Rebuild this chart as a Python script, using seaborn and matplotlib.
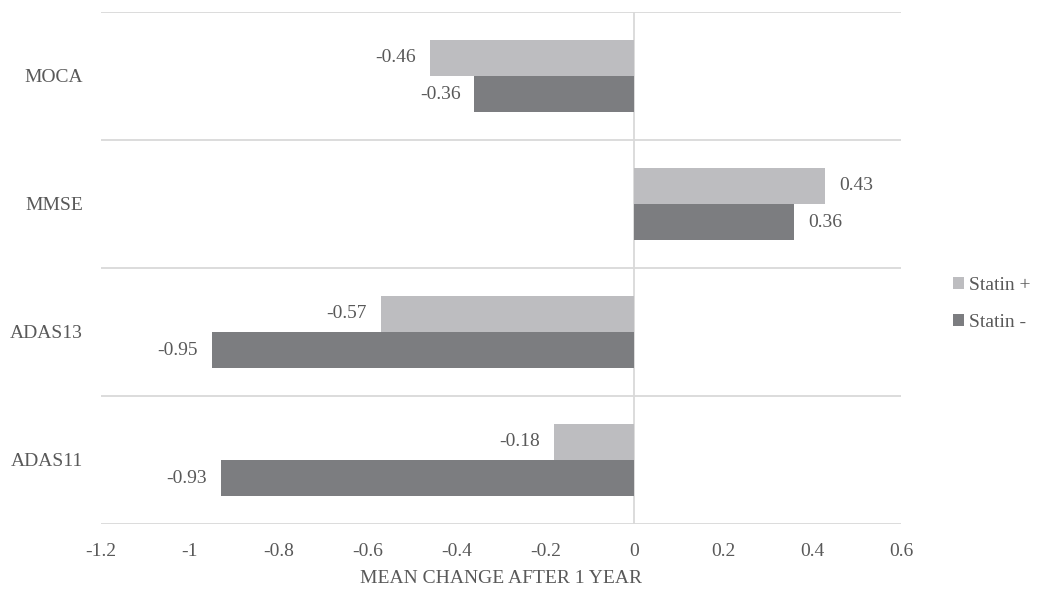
import matplotlib
matplotlib.use("Agg")
import matplotlib.pyplot as plt
import seaborn as sns
import pandas as pd
from matplotlib.patches import Patch

categories = ["MOCA", "MMSE", "ADAS13", "ADAS11"]
statin_plus = [-0.46, 0.43, -0.57, -0.18]
statin_minus = [-0.36, 0.36, -0.95, -0.93]
series_names = ["Statin +", "Statin -"]
x_ticks = [-1.2, -1.0, -0.8, -0.6, -0.4, -0.2, 0.0, 0.2, 0.4, 0.6]
x_tick_labels = ["-1.2", "-1", "-0.8", "-0.6", "-0.4", "-0.2", "0", "0.2", "0.4", "0.6"]

sns.set_theme(style="white")
plt.rcParams["font.family"] = ["Liberation Serif", "DejaVu Serif"]
plt.rcParams["axes.unicode_minus"] = False

TEXT = "#595959"
GRID = "#d9d9d9"
colors = ["#bdbdc0", "#7c7d80"]
FS = 14

df = pd.DataFrame({
    "category": categories * 2,
    "value": statin_plus + statin_minus,
    "series": [series_names[0]] * len(categories) + [series_names[1]] * len(categories),
})

fig = plt.figure(figsize=(10.38, 5.92), dpi=100)
ax = fig.add_axes([101 / 1038, 1 - 524 / 592, 800 / 1038, 512 / 592])

sns.barplot(data=df, y="category", x="value", hue="series", order=categories,
            hue_order=series_names, palette=colors, orient="h", width=0.57,
            dodge=True, saturation=1, legend=False, ax=ax, linewidth=0)

for container in ax.containers:
    ax.bar_label(container, fmt="{:.2f}", padding=10, color=TEXT, fontsize=FS)

ax.set_xlim(-1.2, 0.6)
ax.set_ylim(len(categories) - 0.5, -0.5)
ax.set_xticks(x_ticks)
ax.set_xticklabels(x_tick_labels, color=TEXT, fontsize=FS)
ax.tick_params(axis="x", length=0, pad=14)
ax.tick_params(axis="y", length=0, pad=13)
for lbl in ax.get_yticklabels():
    lbl.set_color(TEXT)
    lbl.set_fontsize(FS)

# category separators and zero line
for b in range(len(categories) + 1):
    ax.axhline(b - 0.5, color=GRID, linewidth=1.3, zorder=0)
ax.axvline(0, color=GRID, linewidth=1.3, zorder=0)
for s in ax.spines.values():
    s.set_visible(False)

ax.set_ylabel("")
ax.set_xlabel("MEAN CHANGE AFTER 1 YEAR", color=TEXT, fontsize=FS, labelpad=7)

handles = [Patch(facecolor=c, edgecolor="none", label=n) for c, n in zip(colors, series_names)]
fig.legend(handles=handles, loc="center left", bbox_to_anchor=(935 / 1038, 1 - 304 / 592),
           frameon=False, handlelength=0.57, handleheight=0.57, handletextpad=0.3,
           labelspacing=1.05, fontsize=FS, labelcolor=TEXT)

fig.savefig("out.png", dpi=100)
